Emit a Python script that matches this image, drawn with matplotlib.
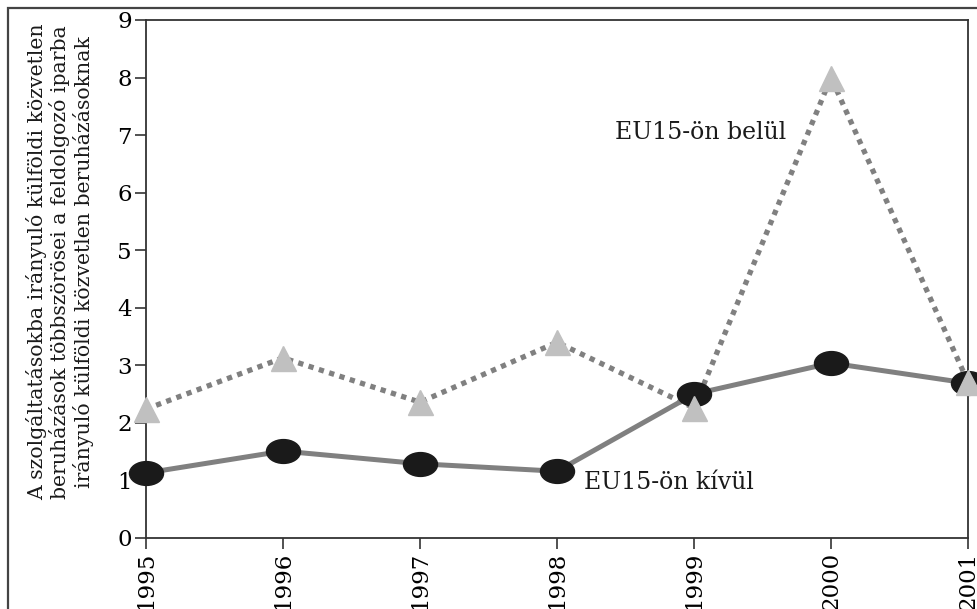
import matplotlib.pyplot as plt
from matplotlib.path import Path
from matplotlib.patches import Rectangle
from matplotlib.transforms import Affine2D

years = [1995, 1996, 1997, 1998, 1999, 2000, 2001]
kivul = [1.13, 1.51, 1.29, 1.16, 2.50, 3.04, 2.69]
belul = [2.24, 3.13, 2.36, 3.40, 2.26, 8.00, 2.71]

ylabel = ("A szolgáltatásokba irányuló külföldi közvetlen\n"
          "beruházások többszörösei a feldolgozó iparba\n"
          "irányuló külföldi közvetlen beruházásoknak")

plt.rcParams['font.family'] = ['DejaVu Serif']

# flat ellipse marker for the black points
ellipse = Path.unit_circle().transformed(Affine2D().scale(1.0, 0.7))

fig = plt.figure(figsize=(9.78, 6.09), dpi=100)
ax = fig.add_axes([146/978, 1 - 538/609, (968 - 146)/978, (538 - 20)/609])

ax.plot(years, belul, color='#808080', lw=3.8, ls=(0, (1, 1.05)),
        zorder=2, clip_on=False)
ax.plot(years, kivul, color='#808080', lw=3.6, zorder=3, clip_on=False)
ax.plot(years, kivul, ls='none', marker=ellipse, ms=24.5, color='#1a1a1a',
        zorder=4, clip_on=False)
ax.plot(years, belul, ls='none', marker='^', ms=18, color='#c0c0c0',
        zorder=5, clip_on=False)

ax.text(1998.42, 7.05, "EU15-ön belül", fontsize=17, ha='left', va='center',
        color='#1a1a1a')
ax.text(1998.2, 0.97, "EU15-ön kívül", fontsize=17, ha='left', va='center',
        color='#1a1a1a')

ax.set_xlim(1995, 2001)
ax.set_ylim(0, 9)
ax.set_xticks(years)
ax.set_xticklabels([str(y) for y in years], rotation=90, va='top')
ax.set_yticks(range(10))
ax.tick_params(axis='both', direction='out', length=8, width=1.2,
               labelsize=16.5, color='#333333', pad=2)
for s in ax.spines.values():
    s.set_color('#333333')
    s.set_linewidth(1.3)

fig.text(60/978, 1 - 262/609, ylabel, rotation=90, ha='center', va='center',
         multialignment='center', fontsize=14.7, linespacing=1.15,
         color='#1a1a1a')

# outer frame, cut off at right and bottom like the source
fig.patches.append(Rectangle((8/978, -0.1), 1.2, 1 - 8/609 + 0.1,
                             transform=fig.transFigure, fill=False,
                             edgecolor='#444444', lw=1.6))

fig.savefig('out.png', dpi=100)
